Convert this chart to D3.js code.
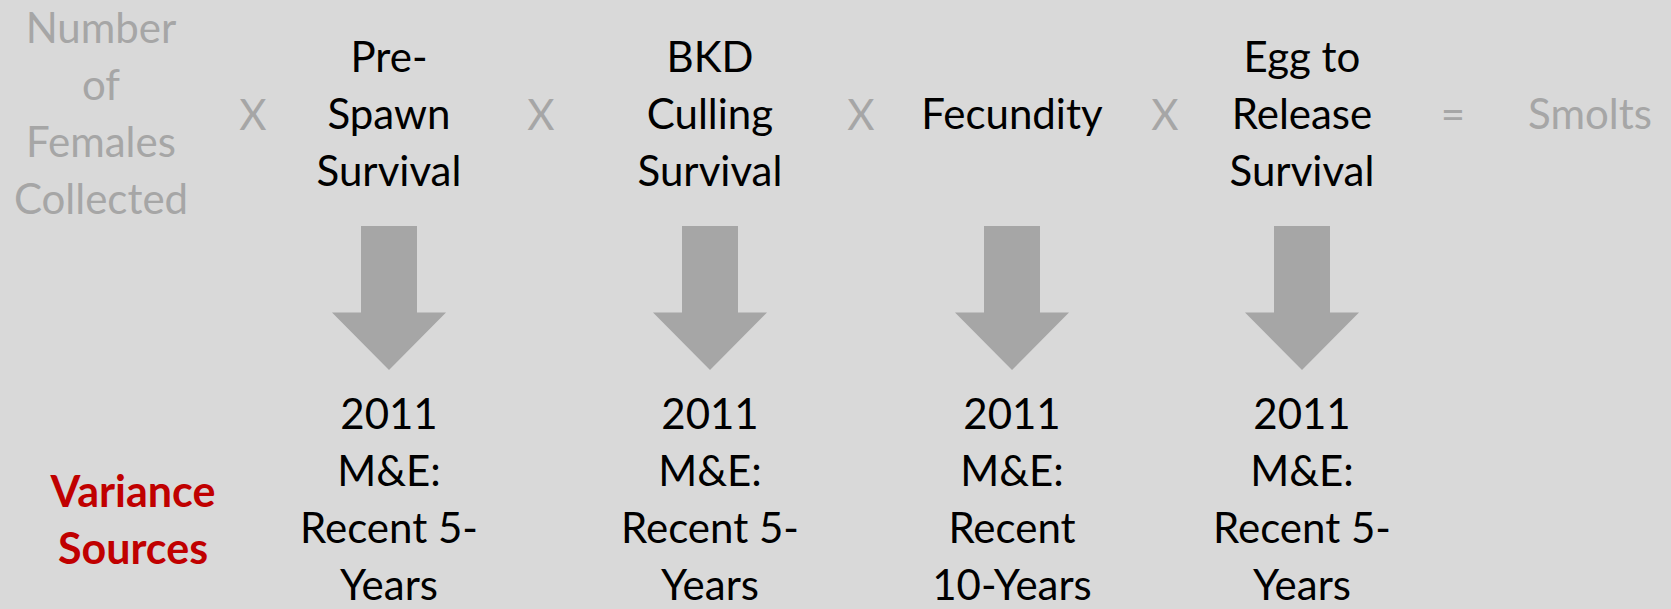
<!DOCTYPE html>
<html>
<head>
<meta charset="utf-8">
<script src="https://cdn.jsdelivr.net/npm/d3@7"></script>
<style>
  html, body { margin: 0; padding: 0; background: #d9d9d9; }
  svg { display: block; }
  text { font-family: Lato, "Open Sans", sans-serif; }
</style>
</head>
<body>
<svg id="chart" width="1671" height="609"></svg>
<script>
// ---- content ----
const headerItems = ["input", "op1", "f1", "op2", "f2", "op3", "f3", "op4", "f4", "eq", "result"];
const headerLabels = [
  ["Number", "of", "Females", "Collected"],
  ["X"],
  ["Pre-", "Spawn", "Survival"],
  ["X"],
  ["BKD", "Culling", "Survival"],
  ["X"],
  ["Fecundity"],
  ["X"],
  ["Egg to", "Release", "Survival"],
  ["="],
  ["Smolts"]
];
const headerKinds = ["given", "op", "factor", "op", "factor", "op", "factor", "op", "factor", "op", "given"];
const factorKeys = ["f1", "f2", "f3", "f4"];
const sourceLabels = [
  ["2011", "M&E:", "Recent 5-", "Years"],
  ["2011", "M&E:", "Recent 5-", "Years"],
  ["2011", "M&E:", "Recent", "10-Years"],
  ["2011", "M&E:", "Recent 5-", "Years"]
];
const rowTitle = ["Variance", "Sources"];

// ---- layout ----
const W = 1671, H = 609;
const xCenters = [101, 253, 389, 541, 710, 861, 1012, 1165, 1302, 1453, 1590];
const x = d3.scaleOrdinal().domain(headerItems).range(xCenters);
const lineH = 57;
const headerMid = 128.5;
const sourceTop = 429;
const y = d3.scaleLinear().domain([0, 1]).range([226, 370]); // arrow from top to tip
const shaftHalf = 28, headHalf = 57, headStart = 0.6;

const colors = { given: "#a6a6a6", op: "#a6a6a6", factor: "#000000" };

const svg = d3.select("#chart");
svg.append("rect").attr("width", W).attr("height", H).attr("fill", "#d9d9d9");

// header terms
const hg = svg.append("g");
headerItems.forEach((key, i) => {
  const lines = headerLabels[i];
  const n = lines.length;
  const t = hg.append("text")
    .attr("text-anchor", "middle")
    .attr("font-size", 42)
    .attr("fill", colors[headerKinds[i]]);
  lines.forEach((ln, j) => {
    t.append("tspan")
      .attr("x", x(key))
      .attr("y", headerMid + (j - (n - 1) / 2) * lineH + (headerKinds[i] === "op" && ln === "X" ? 1.5 : 0))
      .text(ln);
  });
});

// arrows
const arrowPath = cx => {
  const p = d3.path();
  p.moveTo(cx - shaftHalf, y(0));
  p.lineTo(cx + shaftHalf, y(0));
  p.lineTo(cx + shaftHalf, y(headStart));
  p.lineTo(cx + headHalf, y(headStart));
  p.lineTo(cx, y(1));
  p.lineTo(cx - headHalf, y(headStart));
  p.lineTo(cx - shaftHalf, y(headStart));
  p.closePath();
  return p.toString();
};
svg.append("g").selectAll("path")
  .data(factorKeys)
  .join("path")
  .attr("d", d => arrowPath(x(d)))
  .attr("fill", "#a6a6a6");

// sources
const sg = svg.append("g");
factorKeys.forEach((key, i) => {
  const t = sg.append("text")
    .attr("text-anchor", "middle")
    .attr("font-size", 42)
    .attr("fill", "#000");
  sourceLabels[i].forEach((ln, j) => {
    t.append("tspan").attr("x", x(key)).attr("y", sourceTop + j * lineH).text(ln);
  });
});

// row title
const rt = svg.append("text")
  .attr("text-anchor", "middle")
  .attr("font-size", 43)
  .attr("font-weight", "bold")
  .attr("fill", "#c00000");
rowTitle.forEach((ln, j) => {
  rt.append("tspan").attr("x", 133).attr("y", 507 + j * 56.5).text(ln);
});
</script>
</body>
</html>
